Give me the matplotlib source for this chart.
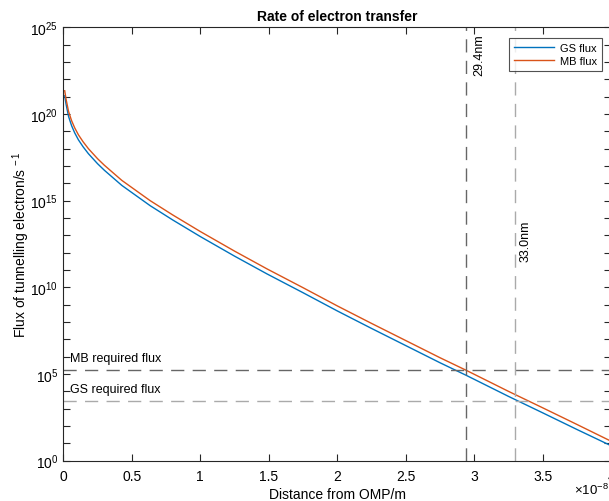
#!/usr/bin/env python3
"""Rate of electron transfer: tunnelling flux vs distance from OMP (MATLAB-style figure)."""

import matplotlib

matplotlib.use("Agg")
import matplotlib.pyplot as plt
import numpy as np
from matplotlib.ticker import FixedLocator, NullFormatter, NullLocator

# distance from OMP, in units of 1e-8 m
distance = [0.01, 0.02, 0.038, 0.06, 0.083, 0.11, 0.144, 0.183, 0.25, 0.3,
            0.427, 0.634, 0.8, 1.0, 1.25, 1.488, 1.75, 2.0, 2.25, 2.5,
            2.75, 2.94, 3.25, 3.5, 3.75, 4.0]
# log10 of the flux
mb_log10 = [21.34, 20.85, 20.15, 19.62, 19.2, 18.8, 18.4, 18.0, 17.42, 17.04,
            16.17, 15.0, 14.17, 13.22, 12.09, 11.06, 9.98, 8.93, 7.92, 6.93,
            5.94, 5.22, 4.0, 3.05, 2.09, 1.12]
gs_log10 = [21.05, 20.56, 19.86, 19.33, 18.91, 18.51, 18.11, 17.71, 17.13, 16.75,
            15.88, 14.71, 13.88, 12.93, 11.80, 10.77, 9.69, 8.64, 7.63, 6.64,
            5.65, 4.93, 3.71, 2.76, 1.80, 0.86]

mb_required = 1.66e5
gs_required = 2.9e3
mb_distance = 2.94   # 29.4 nm
gs_distance = 3.30   # 33.0 nm

plt.rcParams.update({
    "font.family": ["Liberation Sans", "DejaVu Sans"],
    "mathtext.fontset": "custom",
    "mathtext.rm": "Liberation Sans",
    "mathtext.it": "Liberation Sans:italic",
    "mathtext.bf": "Liberation Sans:bold",
    "font.size": 10,
})

fig = plt.figure(figsize=(6.09, 5.02), dpi=100)
ax = fig.add_axes([0.104, 0.0803, 0.8996, 0.8633])

x = np.array(distance)
ax.plot(x, 10.0 ** np.array(gs_log10), color="#0072BD", lw=1.0, label="GS flux")
ax.plot(x, 10.0 ** np.array(mb_log10), color="#D95319", lw=1.0, label="MB flux")

dash = (0, (9.5, 6))
ax.axhline(mb_required, color="#666666", lw=1.0, linestyle=dash)
ax.axhline(gs_required, color="#aaaaaa", lw=1.0, linestyle=dash)
ax.axvline(mb_distance, color="#666666", lw=1.0, linestyle=dash)
ax.axvline(gs_distance, color="#aaaaaa", lw=1.0, linestyle=dash)

ax.text(0.05, mb_required * 2.2, "MB required flux", fontsize=9, va="bottom")
ax.text(0.05, gs_required * 2.2, "GS required flux", fontsize=9, va="bottom")
ax.text(3.034, 10 ** 23.45, "29.4nm", rotation=90, fontsize=9, ha="center", va="center")
ax.text(3.377, 10 ** 12.73, "33.0nm", rotation=90, fontsize=9, ha="center", va="center")

ax.set_yscale("log")
ax.set_xlim(0, 4)
ax.set_ylim(1e0, 1e25)
ax.xaxis.set_major_locator(FixedLocator(np.arange(0, 4.01, 0.5)))
ax.set_xticklabels(["0", "0.5", "1", "1.5", "2", "2.5", "3", "3.5", "4"])
ax.yaxis.set_major_locator(FixedLocator([10.0 ** k for k in range(0, 26, 5)]))
ax.set_yticklabels([f"$10^{{{k}}}$" for k in range(0, 26, 5)])
ax.yaxis.set_minor_locator(FixedLocator([10.0 ** k for k in range(0, 26) if k % 5]))
ax.yaxis.set_minor_formatter(NullFormatter())
ax.xaxis.set_minor_locator(NullLocator())
ax.tick_params(which="both", direction="in", top=True, right=True,
               length=5, width=0.8, labelsize=10, color="#262626")
ax.tick_params(axis="x", pad=6)
for s in ax.spines.values():
    s.set_color("#262626")
    s.set_linewidth(0.8)

ax.set_title("Rate of electron transfer", fontsize=10, fontweight="bold", pad=5)
ax.set_xlabel("Distance from OMP/m", fontsize=10, labelpad=3)
ax.set_ylabel("Flux of tunnelling electron/s$^{\\,-1}$", fontsize=10, labelpad=-1)
fig.text(0.943, 0.008, "$\\times10^{-8}$", fontsize=9.5, ha="left", va="bottom")

leg = ax.legend(loc="upper right", bbox_to_anchor=(0.9835, 0.975), fontsize=8,
                frameon=True, fancybox=False, handlelength=3.6, borderpad=0.45,
                labelspacing=0.25, handletextpad=0.5, borderaxespad=0)
leg.get_frame().set_edgecolor("#262626")
leg.get_frame().set_linewidth(0.8)

fig.savefig("out.png", dpi=100)
